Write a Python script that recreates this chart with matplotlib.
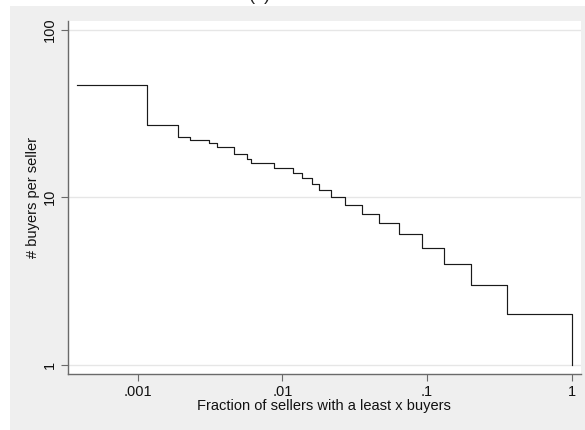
import matplotlib
matplotlib.use("Agg")
import matplotlib.pyplot as plt
from matplotlib.patches import Rectangle

# buyers per seller and the fraction of sellers with at least that many buyers
buyers = [47, 27, 23, 22, 21, 20, 18, 17, 16, 15, 14, 13, 12, 11, 10, 9, 8, 7, 6, 5, 4, 3, 2, 1]
frac_sellers = [0.00038, 0.00115, 0.0019, 0.0023, 0.0031, 0.0035, 0.0046, 0.0057, 0.0061,
                0.0088, 0.0118, 0.0137, 0.0161, 0.0180, 0.0218, 0.0272, 0.0354, 0.0462,
                0.0638, 0.0916, 0.1305, 0.20, 0.355, 1.0]

x_ticks = [0.001, 0.01, 0.1, 1]
x_labels = [".001", ".01", ".1", "1"]
y_ticks = [1, 10, 100]
y_labels = ["1", "10", "100"]

plt.rcParams["font.family"] = ["Liberation Sans", "DejaVu Sans"]

W, H = 585, 430
fig = plt.figure(figsize=(W / 100, H / 100), dpi=100)
fig.patch.set_facecolor("white")

# grey graph region behind the plot
fig.patches.append(Rectangle((10 / W, 0), 1 - 10 / W, 1 - 6 / H, transform=fig.transFigure,
                             facecolor="#efefef", edgecolor="none", zorder=-10))

# panel title, mostly above the top edge
fig.text(260 / W, 1 + 0.5 / H, "(a)", ha="center", va="baseline", fontsize=13, color="#222222")

ax = fig.add_axes([68 / W, 1 - 374 / H, (580.5 - 68) / W, (374 - 20.5) / H])
ax.set_facecolor("white")

ax.plot(frac_sellers, buyers, drawstyle="steps-post", color="#1a1a1a", lw=0.85)

ax.set_xscale("log")
ax.set_yscale("log")
ax.set_xlim(10 ** -3.484, 10 ** 0.062)
ax.set_ylim(10 ** -0.054, 10 ** 2.054)

ax.set_xticks(x_ticks)
ax.set_xticklabels(x_labels)
ax.set_yticks(y_ticks)
ax.set_yticklabels(y_labels, rotation=90, va="center")
ax.minorticks_off()

ax.yaxis.grid(True, color="#e6e6e6", lw=1.0)
ax.set_axisbelow(True)

for side in ["top", "right"]:
    ax.spines[side].set_visible(False)
for side in ["left", "bottom"]:
    ax.spines[side].set_color("#6a6a6a")
    ax.spines[side].set_linewidth(1.0)

ax.tick_params(axis="both", length=5, width=0.8, color="#6a6a6a", labelsize=10.5,
               labelcolor="#111111", pad=3)

ax.set_xlabel("Fraction of sellers with a least x buyers", fontsize=10.5, color="#111111",
              labelpad=0)
ax.set_ylabel("# buyers per seller", fontsize=10.5, color="#111111", labelpad=2)

fig.savefig("out.png", dpi=100, facecolor=fig.get_facecolor())
